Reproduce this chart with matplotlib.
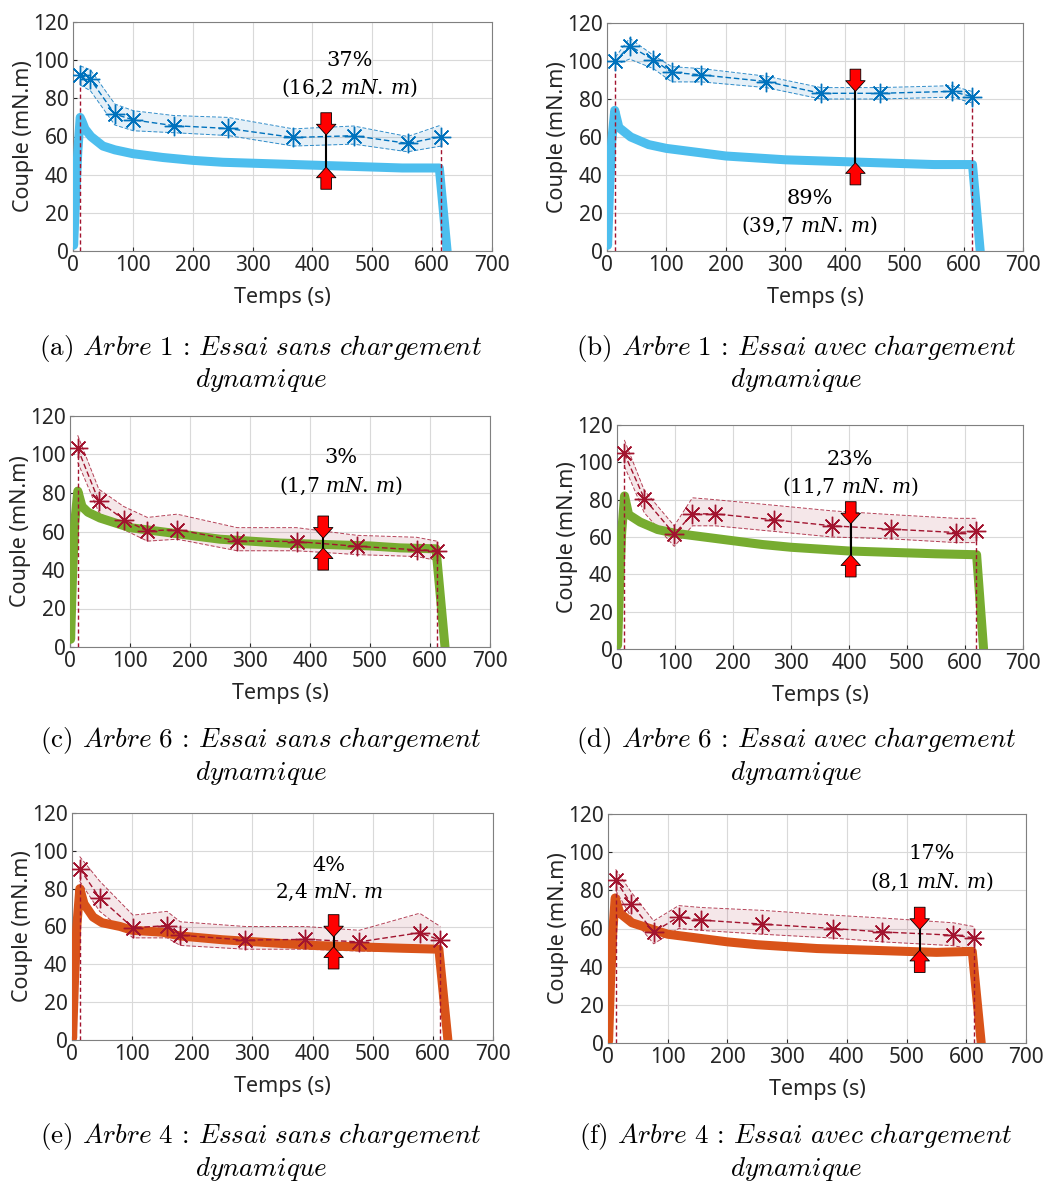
import matplotlib.pyplot as plt

plt.rcParams['font.family'] = ['Noto Sans', 'DejaVu Sans']

# ---------------- data ----------------
# (a) Arbre 1 sans chargement
t_a = [0, 1, 4, 8, 12, 15, 20, 30, 50, 70, 100, 150, 200, 250, 300, 350, 400, 450, 500, 550, 612, 625]
c_a = [22, 3, 25, 52, 70, 68, 64, 60, 55, 53, 51, 49, 47.5, 46.5, 46, 45.5, 45, 44.5, 44, 43.5, 43.5, 0]
sx_a = [12, 29, 70, 101, 168, 259, 368, 469, 559, 615]
sy_a = [92.3, 90, 71.7, 68.7, 65.7, 64.2, 59.5, 60.4, 56.4, 59.9]
hi_a = [97, 95, 77, 73.5, 71, 70, 64, 65.5, 60, 66]
lo_a = [87, 84, 66, 63, 62, 60.5, 55, 56, 52, 55]

# (b) Arbre 1 avec chargement
t_b = [0, 1, 4, 8, 13, 20, 40, 70, 100, 150, 200, 250, 300, 350, 400, 450, 500, 550, 615, 628]
c_b = [8, 3, 30, 58, 74, 65, 60, 56, 54, 52, 50, 49, 48, 47.5, 47, 46.5, 46, 45.5, 45.5, 0]
sx_b = [14, 38, 78, 109, 159, 268, 360, 459, 580, 614]
sy_b = [99.8, 108, 100.6, 94, 92.7, 89.2, 83, 83, 84, 81.3]
hi_b = [102, 112, 103, 97, 96, 92, 86, 86, 87, 84]
lo_b = [98, 101, 96, 89, 89, 86, 80, 80, 81, 78]

# (c) Arbre 6 sans chargement
t_c = [0, 1, 4, 8, 13, 20, 30, 50, 80, 100, 150, 200, 250, 300, 350, 400, 450, 500, 550, 610, 625]
c_c = [25, 4, 35, 65, 81, 73, 70, 67, 64, 62, 60, 58, 56, 55, 54, 53.5, 53, 52.5, 51.5, 51, 0]
sx_c = [12.8, 48, 89.5, 129, 178.5, 278.6, 377.5, 478.7, 577.6, 611]
sy_c = [103.2, 75.8, 66.2, 60.3, 61, 55.1, 54.8, 52.3, 50.5, 50.1]
hi_c = [110, 82, 73, 67.3, 69, 62, 62, 58, 57, 55]
lo_c = [96, 70, 61, 55, 56, 50, 50, 48, 47, 45]

# (d) Arbre 6 avec chargement
t_d = [0, 1, 4, 8, 13, 20, 40, 70, 100, 150, 200, 250, 300, 350, 400, 450, 500, 550, 620, 632]
c_d = [3, 2, 30, 62, 82, 72, 68, 64, 62, 60, 58, 56, 54.5, 53.5, 52.5, 52, 51.5, 51, 50.5, 0]
sx_d = [12.6, 47, 98.7, 130, 169, 270.8, 371, 473, 585, 619.6]
sy_d = [104.8, 80.6, 61.6, 72.4, 72.4, 69.2, 66, 64.2, 62.4, 63]
hi_d = [112, 85, 66, 81, 80, 77, 74, 72, 70, 70]
lo_d = [98, 73, 55, 66, 66, 63, 60, 59, 57, 57]

# (e) Arbre 4 sans chargement
t_e = [0, 1, 4, 8, 13, 20, 35, 50, 80, 100, 150, 180, 250, 300, 350, 400, 450, 500, 550, 610, 625]
c_e = [20, 1, 30, 60, 80, 72, 65, 62, 60, 58, 57, 55, 53, 52, 51, 50, 49.5, 49, 48.5, 48, 0]
sx_e = [12.7, 46, 101.4, 158, 180, 288, 388, 477.8, 578, 612.5]
sy_e = [90.6, 75.1, 59.3, 60.5, 55.4, 52.8, 53.2, 51.9, 56.7, 52.8]
hi_e = [97, 84, 66, 68, 62.5, 60, 60, 58, 67, 60]
lo_e = [84, 68, 54, 54, 50, 48, 48, 47, 47, 46]

# (f) Arbre 4 avec chargement
t_f = [0, 1, 4, 8, 12, 20, 40, 70, 100, 150, 200, 250, 300, 350, 400, 450, 500, 550, 610, 625]
c_f = [3, 1, 30, 58, 76, 68, 63, 60, 57, 55, 53, 51.5, 50.5, 49.5, 49, 48.5, 48, 47.5, 48, 0]
sx_f = [12.8, 39, 76.5, 118.4, 156.4, 258, 377, 459, 578, 613]
sy_f = [85.4, 72.8, 58.2, 66.1, 64.4, 62.3, 60, 58.2, 56.5, 55.1]
hi_f = [91, 79, 64, 72, 71, 69.5, 67, 65.5, 63, 61]
lo_f = [80, 66, 52, 60, 59, 57, 55, 53, 51, 49]

# gap annotations: x, upper value, lower value, labels
gap_x = [423, 418, 422, 403, 435, 522]
gap_top = [60.8, 84, 56.5, 67, 54.5, 59.5]
gap_bot = [44, 46.5, 51.5, 50.5, 49.3, 48.6]
gap_pct = ['37%', '89%', '3%', '23%', '4%', '17%']
gap_val = ['(16,2 $mN.\\,m$)', '(39,7 $mN.\\,m$)', '(1,7 $mN.\\,m$)',
           '(11,7 $mN.\\,m$)', '2,4 $mN.\\,m$', '(8,1 $mN.\\,m$)']

captions = [('(a)', 'Arbre\\ 1', 'Essai\\ sans\\ chargement'),
            ('(b)', 'Arbre\\ 1', 'Essai\\ avec\\ chargement'),
            ('(c)', 'Arbre\\ 6', 'Essai\\ sans\\ chargement'),
            ('(d)', 'Arbre\\ 6', 'Essai\\ avec\\ chargement'),
            ('(e)', 'Arbre\\ 4', 'Essai\\ sans\\ chargement'),
            ('(f)', 'Arbre\\ 4', 'Essai\\ avec\\ chargement')]

# ---------------- layout ----------------
W, H = 1045, 1187
fig = plt.figure(figsize=(W / 100, H / 100), dpi=100)

# axes boxes in pixels: left, right, top, bottom
boxes = [(73, 492, 22, 251), (607, 1023, 23, 251),
         (70, 490, 416, 647), (617, 1023, 425, 649),
         (72, 493, 813, 1040), (608, 1026, 814, 1043)]
text_pos = [(462, 100, 85.4), (341, 27.6, 13.5), (452, 98.5, 83.8),
            (402, 101.6, 87), (427, 92.4, 77.8), (542, 99.4, 84.5)]
caption_y = [348, 348, 741, 741, 1137, 1137]
caption_x = [261, 796, 261, 796, 261, 796]

BLUE = '#0072bd'
RED = '#a2142f'
panels = [
    (t_a, c_a, '#4dbeee', sx_a, sy_a, lo_a, hi_a, BLUE),
    (t_b, c_b, '#4dbeee', sx_b, sy_b, lo_b, hi_b, BLUE),
    (t_c, c_c, '#77ac30', sx_c, sy_c, lo_c, hi_c, RED),
    (t_d, c_d, '#77ac30', sx_d, sy_d, lo_d, hi_d, RED),
    (t_e, c_e, '#d95319', sx_e, sy_e, lo_e, hi_e, RED),
    (t_f, c_f, '#d95319', sx_f, sy_f, lo_f, hi_f, RED),
]

arrow_style = 'simple,head_length=0.55,head_width=1.0,tail_width=0.55'

for i, (t, c, ccol, sx, sy, lo, hi, scol) in enumerate(panels):
    l, r, tp, b = boxes[i]
    ax = fig.add_axes([l / W, 1 - b / H, (r - l) / W, (b - tp) / H])

    ax.fill_between(sx, lo, hi, color=scol, alpha=0.1, lw=0, zorder=1)
    ax.plot(sx, lo, ls=(0, (4, 2)), lw=0.7, color=scol, alpha=0.8, zorder=2)
    ax.plot(sx, hi, ls=(0, (4, 2)), lw=0.7, color=scol, alpha=0.8, zorder=2)

    ax.plot(t, c, color=ccol, lw=6.5, solid_joinstyle='round',
            solid_capstyle='round', zorder=3)

    ax.plot([sx[0], sx[0]], [0, sy[0]], color=RED, ls=(0, (3, 2)), lw=1, zorder=4)
    ax.plot([sx[-1], sx[-1]], [0, sy[-1]], color=RED, ls=(0, (3, 2)), lw=1, zorder=4)

    ax.plot(sx, sy, ls=(0, (4, 2)), lw=1, color=scol, marker=(8, 2, 0),
            ms=14, mew=1, zorder=5)
    ax.plot(sx, sy, ls='none', marker='.', ms=5, color=scol, zorder=6)

    # gap between curve and loaded series
    gx = gap_x[i]
    ax.plot([gx, gx], [gap_bot[i], gap_top[i]], color='black', lw=1.5, zorder=7)
    ax.annotate('', xy=(gx, gap_top[i]), xytext=(0, 16), textcoords='offset points',
                arrowprops=dict(arrowstyle=arrow_style, fc='red', ec='black', lw=0.6,
                                shrinkA=0, shrinkB=0, mutation_scale=14), zorder=8)
    ax.annotate('', xy=(gx, gap_bot[i]), xytext=(0, -16), textcoords='offset points',
                arrowprops=dict(arrowstyle=arrow_style, fc='red', ec='black', lw=0.6,
                                shrinkA=0, shrinkB=0, mutation_scale=14), zorder=8)

    tx, ty1, ty2 = text_pos[i]
    ax.text(tx, ty1, gap_pct[i], ha='center', va='center', fontsize=15,
            family='DejaVu Serif', math_fontfamily='dejavuserif', zorder=9)
    ax.text(tx, ty2, gap_val[i], ha='center', va='center', fontsize=14.5,
            family='DejaVu Serif', math_fontfamily='dejavuserif', zorder=9)

    ax.set_xlim(0, 700)
    ax.set_ylim(0, 120)
    ax.set_xticks(range(0, 701, 100))
    ax.set_yticks(range(0, 121, 20))
    ax.grid(True, color='#d9d9d9', lw=0.8)
    ax.set_axisbelow(True)
    ax.tick_params(direction='in', length=3, labelsize=15, colors='#262626',
                   pad=3)
    for s in ax.spines.values():
        s.set_color('#808080')
        s.set_linewidth(0.8)
    ax.set_xlabel('Temps (s)', fontsize=15.5, color='#262626', labelpad=8)
    ax.set_ylabel('Couple (mN.m)', fontsize=15.5, color='#262626', labelpad=-1)

    lab, tree, cap = captions[i]
    fig.text(caption_x[i] / W, 1 - caption_y[i] / H,
             lab + ' $\\mathit{' + tree + '}$ : $\\mathit{' + cap + '}$',
             ha='center', va='center', fontsize=19.5, family='cmr10',
             math_fontfamily='cm')
    fig.text(caption_x[i] / W, 1 - (caption_y[i] + 32) / H,
             '$\\mathit{dynamique}$', ha='center', va='center',
             fontsize=19.5, family='cmr10', math_fontfamily='cm')

fig.savefig('out.png', dpi=100)
